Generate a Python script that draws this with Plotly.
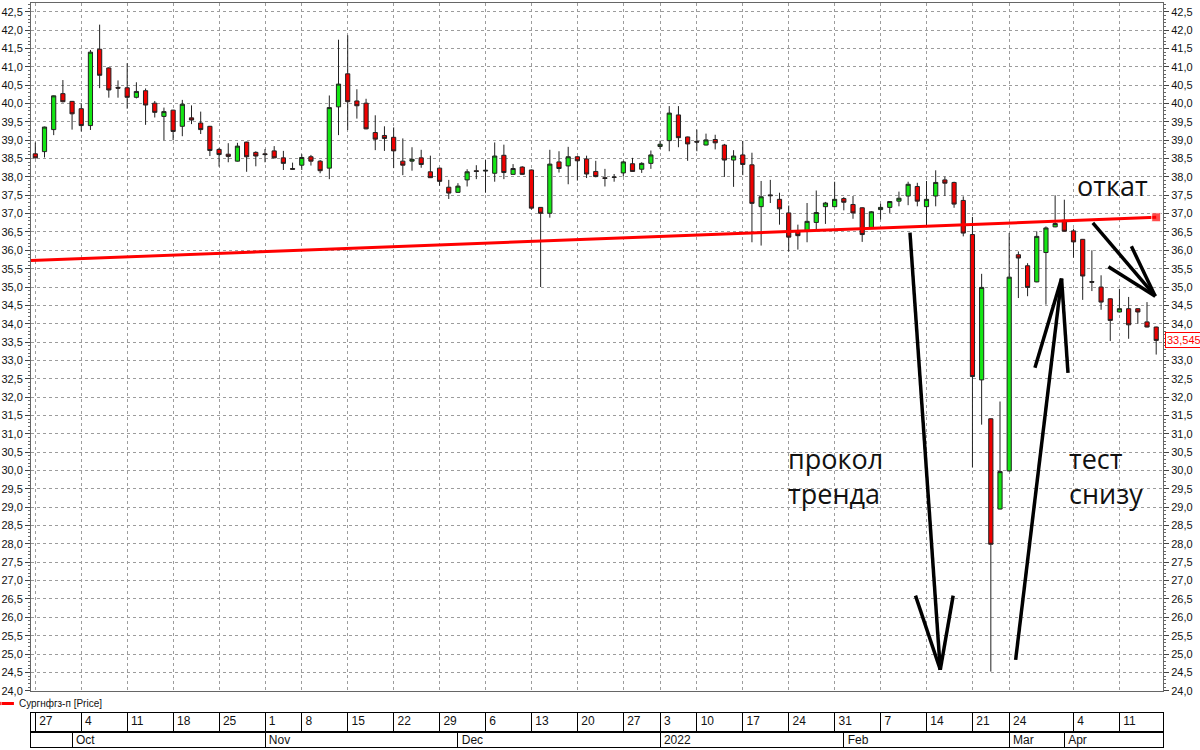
import pandas as pd
import plotly.graph_objects as go

# trading days: MOEX calendar, with the halt from 28 Feb to 23 Mar 2022
dates = pd.bdate_range("2021-09-27", "2022-04-15")
holidays = pd.to_datetime(["2021-11-04", "2021-12-31", "2022-01-07", "2022-02-23"])
halt = (dates > "2022-02-25") & (dates < "2022-03-24")
dates = dates[~dates.isin(holidays) & ~halt]

open_ = [38.63, 38.69, 39.29, 40.27, 40.06, 39.86, 39.40, 41.48, 40.97, 40.44,
         40.43, 40.17, 40.35, 40.01, 39.65, 39.82, 39.38, 39.61, 39.47, 39.38,
         38.75, 38.62, 38.43, 38.95, 38.67, 38.63, 38.71, 38.52, 38.23, 38.32,
         38.55, 38.43, 38.24, 39.91, 40.81, 40.07, 40.01, 39.21, 39.13, 39.08,
         38.43, 38.43, 38.52, 38.14, 38.24, 37.72, 37.58, 37.92, 38.17, 38.16,
         38.10, 38.59, 38.07, 38.27, 38.19, 37.17, 37.01, 38.41, 38.30, 38.55,
         38.49, 38.15, 37.98, 38.00, 38.11, 38.36, 38.21, 38.37, 38.83, 38.99,
         39.69, 39.09, 38.97, 38.87, 39.02, 38.87, 38.46, 38.60, 38.33, 37.19,
         37.51, 37.39, 37.02, 36.54, 36.52, 36.76, 37.19, 37.19, 37.41, 37.25,
         37.16, 36.61, 37.11, 37.17, 37.34, 37.48, 37.74, 37.19, 37.48, 37.92,
         37.85, 37.36, 36.43, 32.47, 31.41, 28.95, 29.99, 35.88, 35.58, 35.14,
         35.94, 36.64, 36.82, 36.53, 36.30, 35.15, 35.00, 34.68, 34.32, 34.41,
         34.41, 34.05, 33.91]
high = [38.94, 39.37, 40.22, 40.64, 40.07, 40.00, 41.46, 42.15, 40.99, 40.63,
        41.10, 40.58, 40.41, 40.07, 39.89, 39.83, 40.10, 39.95, 39.78, 39.39,
        38.79, 38.92, 38.93, 38.96, 38.70, 38.76, 38.84, 38.71, 38.39, 38.62,
        38.60, 38.46, 40.22, 41.74, 41.86, 40.39, 40.13, 39.68, 39.38, 39.35,
        39.05, 38.81, 38.74, 38.58, 38.25, 37.92, 37.83, 38.21, 38.32, 38.46,
        38.94, 38.88, 38.35, 38.29, 38.20, 37.18, 38.74, 38.70, 38.82, 38.57,
        38.58, 38.44, 38.22, 38.08, 38.44, 38.52, 38.40, 38.72, 38.99, 39.93,
        39.93, 39.10, 39.29, 39.18, 39.15, 38.90, 38.73, 38.98, 38.66, 37.89,
        37.92, 37.57, 37.22, 36.70, 37.29, 37.63, 37.32, 37.87, 37.45, 37.48,
        37.17, 37.07, 37.27, 37.34, 37.60, 37.87, 37.84, 37.89, 38.18, 38.01,
        37.87, 37.47, 36.91, 35.36, 31.42, 31.88, 36.47, 35.97, 35.65, 36.52,
        36.65, 37.50, 37.38, 36.59, 36.31, 36.00, 35.32, 34.69, 34.95, 34.73,
        34.42, 34.59, 33.92]
low = [38.50, 38.53, 39.14, 40.03, 39.29, 39.24, 39.28, 40.42, 40.16, 40.16,
       39.86, 40.14, 39.42, 39.62, 39.00, 39.00, 39.11, 39.44, 39.17, 38.57,
       38.28, 38.40, 38.42, 38.14, 38.29, 38.40, 38.51, 38.19, 38.20, 38.19,
       38.31, 38.10, 37.94, 39.14, 39.28, 39.59, 39.30, 38.73, 38.71, 38.24,
       38.05, 38.17, 38.25, 37.97, 37.76, 37.40, 37.57, 37.74, 37.94, 37.57,
       37.87, 37.94, 38.06, 38.06, 37.11, 35.00, 36.89, 38.12, 37.80, 37.90,
       37.97, 37.99, 37.74, 37.87, 38.01, 38.14, 38.11, 38.22, 38.76, 38.70,
       38.81, 38.44, 38.70, 38.86, 38.75, 38.00, 37.73, 38.05, 36.22, 36.13,
       37.29, 36.70, 35.97, 36.02, 36.22, 36.56, 36.72, 37.18, 37.09, 36.86,
       36.23, 36.60, 36.84, 37.02, 37.20, 37.23, 37.20, 36.66, 37.20, 37.48,
       37.16, 36.38, 30.09, 31.25, 24.52, 28.94, 29.98, 34.70, 34.75, 35.13,
       34.52, 36.63, 36.51, 35.80, 34.65, 34.89, 34.38, 33.53, 34.31, 33.59,
       34.00, 33.90, 33.16]
close = [38.52, 39.36, 40.21, 40.05, 39.72, 39.40, 41.40, 40.77, 40.37, 40.42,
         40.17, 40.33, 39.96, 39.76, 39.78, 39.24, 39.98, 39.55, 39.29, 38.72,
         38.61, 38.56, 38.84, 38.55, 38.57, 38.61, 38.52, 38.37, 38.21, 38.53,
         38.43, 38.17, 39.89, 40.53, 40.05, 39.94, 39.31, 39.03, 39.05, 38.71,
         38.32, 38.48, 38.34, 37.98, 37.88, 37.56, 37.75, 38.14, 38.15, 38.18,
         38.57, 38.12, 38.23, 38.07, 37.15, 37.01, 38.35, 38.23, 38.55, 38.44,
         38.08, 38.01, 37.96, 37.99, 38.41, 38.15, 38.37, 38.60, 38.89, 39.74,
         39.07, 38.90, 38.95, 39.01, 38.93, 38.46, 38.57, 38.34, 37.28, 37.46,
         37.49, 37.13, 36.36, 36.40, 36.79, 37.03, 37.29, 37.39, 37.31, 37.02,
         36.43, 37.05, 37.17, 37.33, 37.42, 37.80, 37.34, 37.39, 37.85, 37.83,
         37.26, 36.47, 32.56, 34.99, 27.99, 29.97, 35.27, 35.79, 34.99, 36.38,
         36.61, 36.73, 36.52, 36.23, 35.30, 35.13, 34.59, 34.09, 34.41, 33.97,
         34.32, 33.91, 33.545]

# hand-drawn trend line (bar index, price)
trend_x = [-0.5, 122]
trend_y = [35.72, 36.90]

# hand-drawn arrows, segments in (bar index, price)
arrows = [
    ((95.2, 36.48), (98.5, 24.57)), ((95.8, 26.59), (98.5, 24.57)), ((99.9, 26.59), (98.5, 24.57)),
    ((106.7, 24.84), (111.7, 35.23)), ((108.8, 32.80), (111.7, 35.23)), ((112.4, 32.66), (111.7, 35.23)),
    ((115.1, 36.75), (121.9, 34.75)), ((119.3, 36.11), (121.9, 34.75)), ((116.8, 35.55), (121.9, 34.75)),
]
notes = [("прокол<br>тренда", 81.7, 29.85), ("тест<br>снизу", 112.3, 29.85), ("откат", 113.2, 37.76)]

assert len(dates) == len(open_) == len(high) == len(low) == len(close)
xi = list(range(len(dates)))

# first bar of each week (skip a week start that sits too close to the previous one)
week = dates.isocalendar().week.values
week_ticks = []
for i in xi:
    if i == 0 or week[i] != week[i - 1]:
        if not week_ticks or i - week_ticks[-1] >= 3:
            week_ticks.append(i)
week_text = ["\u00a0" + str(dates[i].day) for i in week_ticks]
month_ticks = [i for i in xi if i > 0 and dates[i].month != dates[i - 1].month]
month_text = ["\u00a0" + (str(dates[i].year) if dates[i].month == 1 else dates[i].strftime("%b"))
              for i in month_ticks]

GREEN = "#14e614"
RED = "#f00000"
GRID = "#9c9c9c"
FONT = "Liberation Sans Narrow, Liberation Sans, Arial, sans-serif"

fig = go.Figure()
fig.add_trace(go.Candlestick(
    x=xi, open=open_, high=high, low=low, close=close,
    text=[d.strftime("%d.%m.%Y") for d in dates],
    increasing=dict(fillcolor=GREEN, line=dict(color="#222", width=1)),
    decreasing=dict(fillcolor=RED, line=dict(color="#222", width=1)),
    whiskerwidth=0, showlegend=False))
fig.add_trace(go.Scatter(
    x=trend_x, y=trend_y, yaxis="y4", mode="lines+markers",
    line=dict(color="#ff0000", width=3),
    marker=dict(size=[0, 9], symbol="square", color="#ff0000"),
    name="Сургнфгз-п [Price]"))
# invisible traces so the two date-table strips exist as subplots
for xa, ya, ticks in (("x2", "y2", week_ticks), ("x3", "y3", month_ticks)):
    fig.add_trace(go.Scatter(x=ticks, y=[0.5] * len(ticks), xaxis=xa, yaxis=ya,
                             mode="markers", marker=dict(opacity=0),
                             showlegend=False, hoverinfo="skip"))

# pixel layout of the stacked panels
top, bottom = 3, 747
H = bottom - top
def frac(px):
    return (bottom - px) / H

xr = [-0.47, 122.74]
yr = [24, 42.74]
yfmt = dict(range=yr, autorange=False, dtick=0.5, tick0=24, tickformat=".1f",
            ticks="outside", ticklen=5, tickcolor="#444",
            tickfont=dict(family=FONT, size=11, color="#111"),
            minor=dict(dtick=0.1, ticks="outside", ticklen=2, tickcolor="#666"))
strip_x = dict(domain=[0, 1], range=xr, side="top", ticks="",
               ticklabelposition="inside right", ticklabeloverflow="allow",
               tickfont=dict(family=FONT, size=12, color="#111"),
               showgrid=True, gridcolor="#000", zeroline=False,
               showline=True, mirror=True, linecolor="#000")
strip_y = dict(range=[0, 1], showticklabels=False, showgrid=False, zeroline=False,
               showline=True, mirror=True, linecolor="#000", ticks="")

fig.update_layout(
    width=1200, height=750,
    margin=dict(l=31, r=37, t=top, b=750 - bottom, autoexpand=False),
    paper_bgcolor="white", plot_bgcolor="white",
    separators=", ",
    boxgap=0.35,
    xaxis=dict(domain=[0, 1], range=xr, anchor="y", tickvals=week_ticks,
               showticklabels=False, ticks="", showgrid=True, gridcolor=GRID,
               griddash="dot", zeroline=False, showline=True, mirror=True,
               linecolor="#666", rangeslider=dict(visible=False)),
    yaxis=dict(domain=[frac(690.7), 1], showgrid=True, gridcolor=GRID,
               griddash="dot", zeroline=False, showline=True, mirror=True,
               linecolor="#666", **yfmt),
    yaxis4=dict(overlaying="y", side="right", showgrid=False, zeroline=False, **yfmt),
    xaxis2=dict(anchor="y2", tickvals=week_ticks, ticktext=week_text, **strip_x),
    yaxis2=dict(anchor="x2", domain=[frac(731.7), frac(712.7)], **strip_y),
    xaxis3=dict(anchor="y3", tickvals=month_ticks, ticktext=month_text, **strip_x),
    yaxis3=dict(anchor="x3", domain=[0, frac(731.7)], **strip_y),
    legend=dict(x=-0.046, y=frac(689), xanchor="left", yanchor="top",
                bgcolor="rgba(0,0,0,0)", font=dict(family=FONT, size=10, color="#111"),
                itemwidth=30),
    hovermode=False,
)

for (x0, y0), (x1, y1) in arrows:
    fig.add_shape(type="line", xref="x", yref="y", x0=x0, y0=y0, x1=x1, y1=y1,
                  line=dict(color="#000", width=3.5), layer="above")

for txt, x, y in notes:
    fig.add_annotation(text=txt, x=x, y=y, xref="x", yref="y", xanchor="left",
                       yanchor="middle", align="left", showarrow=False,
                       font=dict(family="Open Sans", size=27, color="#111"))

last = close[-1]
fig.add_annotation(text=f"{last:.3f}".replace(".", ","), x=1, xref="paper", y=last,
                   yref="y", xanchor="left", xshift=2, showarrow=False,
                   font=dict(family=FONT, size=11, color="#ff0000"),
                   bordercolor="#ff0000", borderwidth=1, borderpad=1, bgcolor="white")

# page body has a default 8px margin; drop it so the 1200x750 figure fills the window
fig.write_html("out.html", config={"displayModeBar": False},
               post_script="document.body.style.margin='0';document.body.style.overflow='hidden';")
